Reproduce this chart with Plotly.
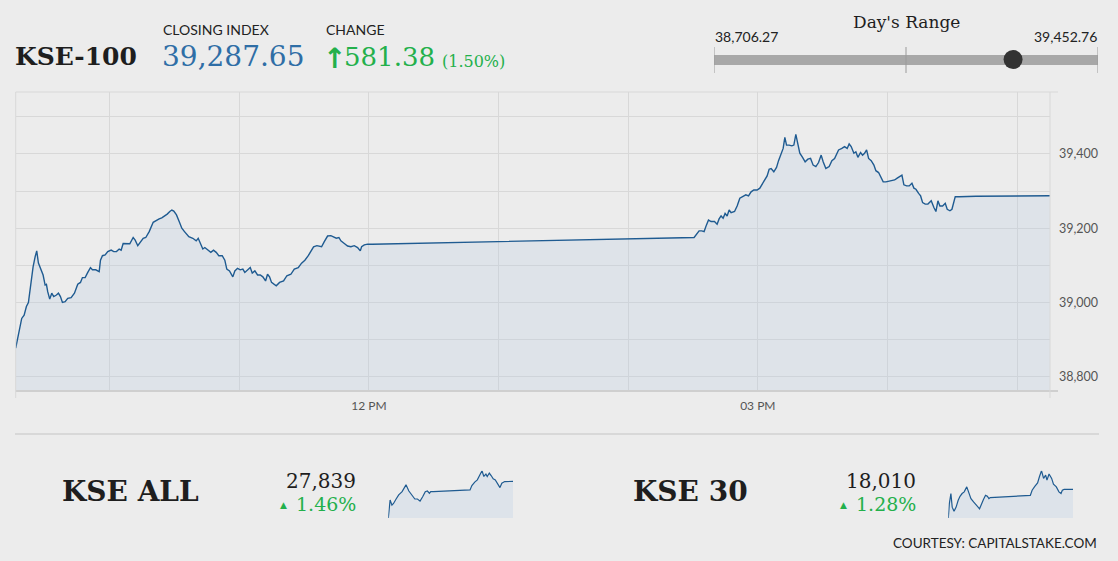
import plotly.graph_objects as go

# ---------------- data ----------------
trade_date = "2019-01-11"

main_times = [
    "09:16:32", "09:18:07", "09:19:19", "09:20:26", "09:21:29", "09:22:25", "09:23:29", "09:24:35",
    "09:25:31", "09:26:16", "09:27:03", "09:28:18", "09:29:13", "09:30:09", "09:30:45", "09:31:21",
    "09:32:17", "09:33:13", "09:34:08", "09:35:23", "09:36:19", "09:37:14", "09:38:10", "09:39:25",
    "09:40:37", "09:42:11", "09:43:43", "09:45:15", "09:46:30", "09:47:25", "09:48:40", "09:49:53",
    "09:51:08", "09:52:03", "09:53:35", "09:55:10", "09:55:46", "09:56:41", "09:57:56", "09:59:08",
    "10:00:43", "10:01:55", "10:03:10", "10:04:25", "10:05:20", "10:06:16", "10:07:48", "10:09:20",
    "10:10:54", "10:11:50", "10:13:02", "10:14:17", "10:15:32", "10:16:44", "10:18:19", "10:20:10",
    "10:21:41", "10:22:56", "10:24:08", "10:25:43", "10:26:39", "10:27:51", "10:28:47", "10:29:42",
    "10:30:57", "10:32:12", "10:33:25", "10:34:39", "10:36:39", "10:38:30", "10:40:04", "10:41:00",
    "10:41:56", "10:43:08", "10:44:04", "10:45:19", "10:46:50", "10:48:05", "10:49:20", "10:50:32",
    "10:52:07", "10:53:19", "10:54:14", "10:55:29", "10:57:01", "10:57:57", "10:59:12", "11:00:27",
    "11:01:39", "11:02:35", "11:03:50", "11:05:05", "11:06:01", "11:07:13", "11:08:28", "11:09:43",
    "11:10:55", "11:12:10", "11:13:05", "11:14:01", "11:14:56", "11:16:11", "11:17:07", "11:18:39",
    "11:20:30", "11:22:02", "11:23:53", "11:25:28", "11:27:18", "11:28:50", "11:30:22", "11:31:56",
    "11:33:08", "11:34:23", "11:35:55", "11:38:06", "11:39:21", "11:40:53", "11:42:24", "11:43:59",
    "11:44:54", "11:46:07", "11:47:02", "11:48:37", "11:50:08", "11:51:40", "11:53:14", "11:54:46",
    "11:56:01", "11:56:37", "11:57:52", "11:59:24", "12:01:34",
    "14:30:30", "14:31:37", "14:32:49", "14:34:04", "14:35:08", "14:36:14", "14:37:10", "14:38:22",
    "14:39:56", "14:41:09", "14:42:04", "14:43:00", "14:43:56", "14:44:51", "14:45:47", "14:46:43",
    "14:47:38", "14:49:13", "14:50:25", "14:51:40", "14:52:55", "14:54:26", "14:55:41", "14:56:53",
    "14:58:08", "14:59:40", "15:00:55", "15:02:10", "15:03:23", "15:04:18", "15:05:14", "15:06:09",
    "15:07:24", "15:08:39", "15:09:35", "15:10:47", "15:11:43", "15:12:30", "15:13:17", "15:14:29",
    "15:15:44", "15:16:40", "15:17:35", "15:18:31", "15:19:26", "15:20:42", "15:21:54", "15:23:09",
    "15:24:24", "15:25:36", "15:26:51", "15:28:06", "15:29:19", "15:30:14", "15:31:29", "15:33:01",
    "15:34:16", "15:35:31", "15:37:22", "15:38:53", "15:40:08", "15:41:21", "15:42:16", "15:43:12",
    "15:44:27", "15:45:22", "15:46:18", "15:47:33", "15:48:29", "15:49:24", "15:50:20", "15:51:16",
    "15:52:28", "15:53:43", "15:54:38", "15:55:53", "15:56:49", "15:58:01", "15:59:16", "16:00:48",
    "16:02:03", "16:03:18", "16:04:30", "16:05:45", "16:06:41", "16:07:36", "16:08:51", "16:10:04",
    "16:11:19", "16:12:14", "16:13:10", "16:14:25", "16:15:20", "16:16:16", "16:17:28", "16:18:43",
    "16:20:15", "16:21:29", "16:22:25", "16:23:21", "16:24:16", "16:25:31", "16:26:44", "16:27:39",
    "16:28:54", "16:29:50", "16:31:22", "16:33:13", "16:36:19", "16:40:56", "17:15:13",
]
kse100_values = [
    38877, 38921, 38957, 38966, 38989, 39000, 39052, 39096,
    39123, 39139, 39106, 39088, 39074, 39047, 39049, 39029,
    39009, 39025, 39016, 39020, 39025, 39016, 39000, 39002,
    39011, 39013, 39025, 39049, 39054, 39067, 39067, 39081,
    39094, 39088, 39088, 39083, 39114, 39126, 39128, 39137,
    39141, 39137, 39137, 39144, 39141, 39159, 39159, 39158,
    39175, 39168, 39153, 39164, 39173, 39175, 39191, 39216,
    39222, 39225, 39228, 39234, 39238, 39245, 39249, 39246,
    39236, 39218, 39200, 39191, 39177, 39173, 39166, 39173,
    39159, 39144, 39148, 39141, 39135, 39141, 39135, 39126,
    39126, 39114, 39090, 39085, 39069, 39085, 39092, 39088,
    39090, 39081, 39088, 39094, 39079, 39085, 39074, 39074,
    39069, 39058, 39076, 39069, 39054, 39049, 39045, 39054,
    39058, 39072, 39076, 39090, 39094, 39106, 39114, 39126,
    39139, 39150, 39153, 39150, 39164, 39179, 39180, 39175,
    39173, 39175, 39166, 39159, 39152, 39150, 39153, 39148,
    39139, 39150, 39155, 39157, 39157,
    39175, 39184, 39193, 39193, 39191, 39209, 39222, 39218,
    39218, 39211, 39225, 39233, 39227, 39240, 39233, 39249,
    39242, 39245, 39260, 39281, 39285, 39290, 39287, 39298,
    39303, 39303, 39308, 39319, 39332, 39341, 39359, 39361,
    39352, 39364, 39382, 39402, 39415, 39445, 39424, 39424,
    39422, 39424, 39452.76, 39427, 39402, 39391, 39379, 39386,
    39388, 39370, 39366, 39377, 39397, 39379, 39361, 39366,
    39382, 39388, 39411, 39415, 39420, 39415, 39427, 39420,
    39402, 39406, 39391, 39404, 39397, 39402, 39411, 39388,
    39382, 39370, 39355, 39350, 39339, 39325, 39325, 39327,
    39330, 39330, 39335, 39341, 39343, 39317, 39314, 39314,
    39321, 39308, 39305, 39294, 39287, 39269, 39265, 39265,
    39274, 39256, 39245, 39274, 39260, 39260, 39267, 39251,
    39247, 39251, 39285, 39285, 39286, 39286, 39287.65,
]

index_name = "KSE-100"
closing_index = 39287.65
change_points = 581.38
change_pct = 1.50
day_low = 38706.27
day_high = 39452.76

y_axis_ticks = [38800, 39000, 39200, 39400]
x_tick_labels = ["12 PM", "03 PM"]

kse_all_times = [
    "09:16", "09:23", "09:30", "09:36", "09:46", "09:56", "10:09", "10:17", "10:24", "10:35",
    "10:47", "10:58", "11:08", "11:18", "11:28", "11:38", "11:46", "11:54", "11:59", "12:09",
    "14:30", "14:37", "14:48", "14:58", "15:08", "15:16", "15:23", "15:31", "15:36", "15:44",
    "15:51", "15:59", "16:07", "16:14", "16:25", "16:32", "16:43", "17:15",
]
kse_all_values = [
    27560, 27697, 27658, 27671, 27705, 27736, 27761, 27787, 27813, 27766,
    27730, 27705, 27705, 27689, 27722, 27761, 27766, 27749, 27761, 27761,
    27774, 27807, 27834, 27851, 27890, 27921, 27877, 27895, 27877, 27903,
    27884, 27859, 27851, 27826, 27792, 27826, 27838, 27839,
]
kse_all_close = "27,839"
kse_all_pct = "1.46%"

kse30_times = [
    "09:16", "09:20", "09:26", "09:31", "09:38", "09:46", "09:54", "10:01", "10:09", "10:17",
    "10:27", "10:35", "10:43", "10:53", "11:00", "11:08", "11:16", "11:23", "11:31", "11:39",
    "11:46", "11:52", "11:57", "14:31", "14:38", "14:49", "14:59", "15:06", "15:14", "15:22",
    "15:30", "15:35", "15:43", "15:53", "16:00", "16:11", "16:21", "16:29", "16:34", "16:41",
    "17:15",
]
kse30_values = [
    17855, 17933, 17988, 17914, 17892, 17914, 17951, 17973, 17988, 17997,
    18024, 17988, 17960, 17942, 17933, 17918, 17905, 17933, 17955, 17978,
    17973, 17960, 17966, 17978, 18006, 18028, 18046, 18079, 18112, 18070,
    18088, 18061, 18094, 18070, 18039, 18024, 17997, 17988, 18006, 18010,
    18010,
]
kse30_close = "18,010"
kse30_pct = "1.28%"

# ---------------- styling ----------------
W, H = 1118, 561
BG = "#ececec"
GRID = "#d8d8d8"
LINE = "#1f5b91"
BLUE_TXT = "#2f6ea6"
GREEN = "#23b04b"
DARK = "#1e1e1e"
SERIF = "DejaVu Serif"
SANS = "Lato"


def px(x):
    return x / W


def py(y):
    return 1 - y / H


def ts(t):
    return f"{trade_date} {t}"


fig = go.Figure()

# main area chart
fig.add_trace(go.Scatter(
    x=[ts(t) for t in main_times], y=kse100_values, mode="lines",
    line=dict(color=LINE, width=1.4), fill="tozeroy",
    fillcolor="rgba(180,200,225,0.25)", hoverinfo="skip",
    xaxis="x", yaxis="y", showlegend=False,
))

# day's range marker
fig.add_trace(go.Scatter(
    x=[closing_index], y=[0.5], mode="markers",
    marker=dict(size=19, color="#333333"), cliponaxis=False,
    hoverinfo="skip", xaxis="x2", yaxis="y2", showlegend=False,
))

# sparklines
for tms, vals, xa, ya in [(kse_all_times, kse_all_values, "x3", "y3"),
                          (kse30_times, kse30_values, "x4", "y4")]:
    fig.add_trace(go.Scatter(
        x=[ts(t) for t in tms], y=vals, mode="lines",
        line=dict(color=LINE, width=1.2), fill="tozeroy",
        fillcolor="#dde3ea", hoverinfo="skip",
        xaxis=xa, yaxis=ya, showlegend=False,
    ))

axis_font = dict(family=SANS, size=12, color="#555555")

layout = dict(
    width=W, height=H, margin=dict(l=0, r=0, t=0, b=0),
    paper_bgcolor=BG, plot_bgcolor="rgba(0,0,0,0)",
    xaxis=dict(
        domain=[px(15.7), px(1050)], type="date",
        range=[ts(main_times[0]), ts(main_times[-1])],
        tickmode="array",
        tickvals=[ts("12:00"), ts("15:00")], ticktext=x_tick_labels,
        showgrid=True, gridcolor=GRID, gridwidth=1,
        minor=dict(tick0=ts("12:00"), dtick=3600000, showgrid=True, gridcolor=GRID, gridwidth=1),
        ticks="", showline=False, zeroline=False, tickfont=axis_font,
        anchor="y", fixedrange=True, ticklabelstandoff=6,
    ),
    yaxis=dict(
        domain=[py(391), py(92)], range=[38761.5, 39567], side="right",
        tickmode="array", tickvals=y_axis_ticks,
        ticktext=[f"{v:,}" for v in y_axis_ticks],
        showgrid=True, gridcolor=GRID, gridwidth=1,
        minor=dict(tick0=38800, dtick=100, showgrid=True, gridcolor=GRID, gridwidth=1),
        ticks="", showline=False, zeroline=False, tickfont=dict(family=SANS, size=12.5, color="#555555"),
        anchor="x", fixedrange=True, ticklabelstandoff=8,
    ),
    xaxis2=dict(domain=[px(714), px(1098)], range=[day_low, day_high], visible=False,
                anchor="y2", fixedrange=True),
    yaxis2=dict(domain=[py(70), py(49)], range=[0, 1], visible=False, anchor="x2", fixedrange=True),
    xaxis3=dict(domain=[px(388.3), px(513)], type="date",
                range=[ts(kse_all_times[0]), ts(kse_all_times[-1])], visible=False, anchor="y3"),
    yaxis3=dict(domain=[py(518), py(470.7)], range=[min(kse_all_values), max(kse_all_values)],
                visible=False, anchor="x3"),
    xaxis4=dict(domain=[px(948.3), px(1073)], type="date",
                range=[ts(kse30_times[0]), ts(kse30_times[-1])], visible=False, anchor="y4"),
    yaxis4=dict(domain=[py(518), py(470.7)], range=[min(kse30_values), max(kse30_values)],
                visible=False, anchor="x4"),
)
fig.update_layout(**layout)

shapes = []
# chart frame lines
shapes.append(dict(type="line", xref="paper", yref="paper", x0=px(15.7), x1=px(1058),
                   y0=py(391), y1=py(391), line=dict(color="#cfcfcf", width=2)))
shapes.append(dict(type="line", xref="paper", yref="paper", x0=px(15.7), x1=px(1058),
                   y0=py(92), y1=py(92), line=dict(color=GRID, width=1)))
for xe in (15.7, 1050):
    shapes.append(dict(type="line", xref="paper", yref="paper", x0=px(xe), x1=px(xe),
                       y0=py(92), y1=py(398), line=dict(color=GRID, width=1)))
# separator
shapes.append(dict(type="line", xref="paper", yref="paper", x0=px(15), x1=px(1099),
                   y0=py(434), y1=py(434), line=dict(color="#d2d2d2", width=1.5)))
# day's range bar + ticks
shapes.append(dict(type="rect", xref="x2", yref="paper", x0=day_low, x1=day_high,
                   y0=py(65), y1=py(55), fillcolor="#a8a8a8", line=dict(width=0), layer="below"))
for v in (day_low, (day_low + day_high) / 2, day_high):
    shapes.append(dict(type="line", xref="x2", yref="paper", x0=v, x1=v,
                       y0=py(73), y1=py(47), line=dict(color="#9a9a9a", width=1)))
fig.update_layout(shapes=shapes)


def ann(text, x, y, size, color=DARK, family=SERIF, xanchor="left", weight="normal"):
    return dict(text=text, x=px(x), y=py(y), xref="paper", yref="paper",
                xanchor=xanchor, yanchor="middle", showarrow=False,
                font=dict(family=family, size=size, color=color, weight=weight))


annotations = [
    ann(index_name, 13, 56, 25, weight="bold"),
    ann("CLOSING INDEX", 161, 30, 14, color="#222222", family=SANS),
    ann(f"{closing_index:,.2f}", 160, 57, 28, color=BLUE_TXT),
    ann("CHANGE", 324, 30, 14, color="#222222", family=SANS),
    ann("↑", 321, 58, 28, color=GREEN, family="DejaVu Sans", weight="bold"),
    ann(f"{change_points:,.2f}", 342, 57, 26, color=GREEN),
    ann(f"({change_pct:.2f}%)", 440, 61, 16, color=GREEN),
    ann("Day's Range", 906, 22, 17, xanchor="center"),
    ann(f"{day_low:,.2f}", 713, 37, 14, color="#222222", family=SANS),
    ann(f"{day_high:,.2f}", 1099, 37, 14, color="#222222", family=SANS, xanchor="right"),
    ann("KSE ALL", 60, 491, 28, weight="bold"),
    ann(kse_all_close, 358, 481, 20, xanchor="right"),
    ann("▲", 283, 505, 9, color=GREEN, family="DejaVu Sans", xanchor="center"),
    ann(kse_all_pct, 358, 504, 19, color=GREEN, xanchor="right"),
    ann("KSE 30", 631, 491, 28, weight="bold"),
    ann(kse30_close, 918, 481, 20, xanchor="right"),
    ann("▲", 844, 505, 9, color=GREEN, family="DejaVu Sans", xanchor="center"),
    ann(kse30_pct, 918, 504, 19, color=GREEN, xanchor="right"),
    ann("COURTESY: CAPITALSTAKE.COM", 1099, 543, 13.5, color="#222222", family=SANS, xanchor="right"),
]
fig.update_layout(annotations=annotations)

fig.write_html("out.html", config=dict(displayModeBar=False))
